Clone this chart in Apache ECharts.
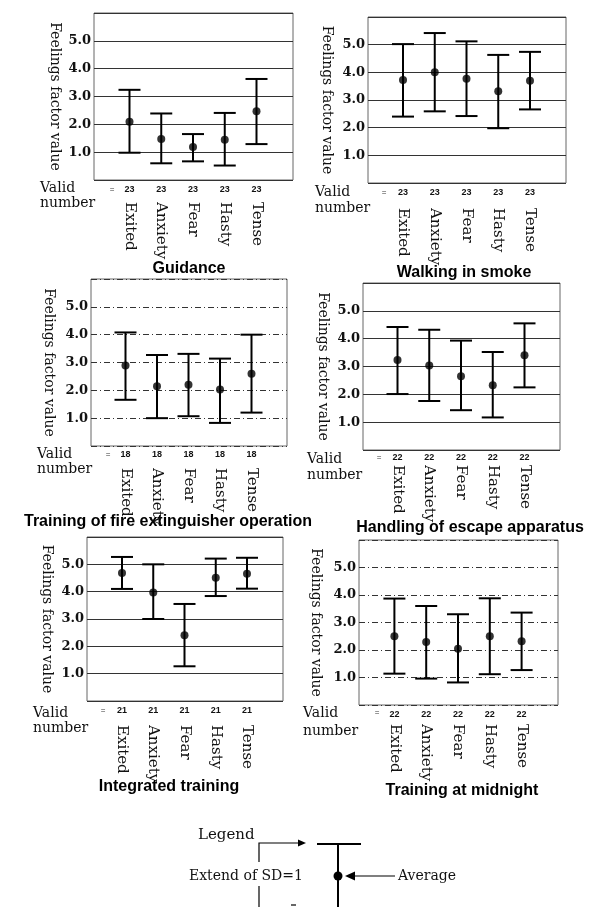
<!DOCTYPE html>
<html><head><meta charset="utf-8">
<script src="https://cdn.jsdelivr.net/npm/echarts@6/dist/echarts.min.js"></script>
<style>html,body{margin:0;padding:0;background:#fff}#c{width:599px;height:907px}</style>
</head><body><div id="c"></div>
<script>
// ---------------- data ----------------
const categories = ['Exited', 'Anxiety', 'Fear', 'Hasty', 'Tense'];
const panelTitles = ['Guidance', 'Walking in smoke', 'Training of fire extinguisher operation',
  'Handling of escape apparatus', 'Integrated training', 'Training at midnight'];
const validNumbers = [23, 23, 18, 22, 21, 22];
const yTickValues = [1, 2, 3, 4, 5];
const yAxisName = 'Feelings factor value';

const guidanceMean = [2.09, 1.47, 1.19, 1.45, 2.47];
const guidanceHigh = [3.24, 2.39, 1.65, 2.41, 3.63];
const guidanceLow  = [0.98, 0.60, 0.67, 0.52, 1.29];

const smokeMean = [3.72, 4.00, 3.77, 3.32, 3.70];
const smokeHigh = [5.02, 5.42, 5.12, 4.63, 4.74];
const smokeLow  = [2.40, 2.59, 2.42, 1.98, 2.66];

const extinguisherMean = [2.89, 2.15, 2.20, 2.03, 2.60];
const extinguisherHigh = [4.08, 3.27, 3.31, 3.14, 4.00];
const extinguisherLow  = [1.66, 1.00, 1.07, 0.83, 1.20];

const escapeMean = [3.23, 3.04, 2.65, 2.33, 3.40];
const escapeHigh = [4.42, 4.32, 3.93, 3.52, 4.55];
const escapeLow  = [2.01, 1.76, 1.43, 1.17, 2.25];

const integratedMean = [4.68, 3.97, 2.41, 4.51, 4.66];
const integratedHigh = [5.27, 5.00, 3.55, 5.21, 5.24];
const integratedLow  = [4.10, 3.00, 1.27, 3.84, 4.11];

const midnightMean = [2.50, 2.29, 2.05, 2.50, 2.32];
const midnightHigh = [3.87, 3.60, 3.30, 3.88, 3.36];
const midnightLow  = [1.14, 0.96, 0.82, 1.12, 1.27];

const panelData = [
  [guidanceMean, guidanceLow, guidanceHigh],
  [smokeMean, smokeLow, smokeHigh],
  [extinguisherMean, extinguisherLow, extinguisherHigh],
  [escapeMean, escapeLow, escapeHigh],
  [integratedMean, integratedLow, integratedHigh],
  [midnightMean, midnightLow, midnightHigh]
];

// ---------------- layout ----------------
const layouts = [
  {l: 94,  t: 13,  w: 199, h: 167, sp: 31.75, dash: 'solid',  nameGap: 32, catGap: 22, cntGap: 10, title: [189, 269], valid: [40, 188, 203],  eq: [112, 190]},
  {l: 368, t: 17,  w: 198, h: 166, sp: 31.75, dash: 'solid',  nameGap: 34, catGap: 25, cntGap: 10, title: [464, 273], valid: [315, 192, 208], eq: [384, 193]},
  {l: 91,  t: 279, w: 196, h: 167, sp: 31.5,  dash: [6, 3, 1, 3], nameGap: 35, catGap: 22, cntGap: 9,  title: [168, 522], valid: [37, 454, 469],  eq: [108, 455]},
  {l: 363, t: 283, w: 197, h: 167, sp: 31.75, dash: 'solid',  nameGap: 33, catGap: 15, cntGap: 8,  title: [470, 528], valid: [307, 459, 475], eq: [379, 458]},
  {l: 87,  t: 537, w: 196, h: 164, sp: 31.25, dash: 'solid',  nameGap: 33, catGap: 24, cntGap: 10, title: [169, 787], valid: [33, 713, 728],  eq: [103, 711]},
  {l: 359, t: 540, w: 199, h: 165, sp: 31.8,  dash: [6, 3, 1, 3], nameGap: 36, catGap: 19, cntGap: 10, title: [462, 791], valid: [303, 713, 731], eq: [377, 713]}
];

const SERIF = 'DejaVu Serif';
const grids = [], xAxes = [], yAxes = [], series = [], graphics = [];

panelData.forEach((pd, i) => {
  const L = layouts[i];
  const [mean, low, high] = pd;
  // outer framed grid with y axis
  const gOuter = grids.length;
  grids.push({left: L.l, top: L.t, width: L.w, height: L.h, show: true, borderColor: '#666', borderWidth: 1});
  xAxes.push({type: 'value', gridIndex: gOuter, min: 0, max: 1, show: false});
  yAxes.push({
    type: 'value', gridIndex: gOuter, min: 0, max: 6, interval: 1,
    axisLine: {show: false}, axisTick: {show: false},
    axisLabel: {formatter: v => yTickValues.includes(v) ? v.toFixed(1) : '',
      fontFamily: SERIF, fontWeight: 'bold', fontSize: 13, color: '#111', margin: 3},
    splitLine: {show: true, lineStyle: {color: '#333', width: 1, type: L.dash}},
    name: yAxisName, nameLocation: 'middle', nameRotate: -90, nameGap: L.nameGap,
    nameTextStyle: {fontFamily: SERIF, fontSize: 14, color: '#111'}
  });
  // inner grid holding the categories
  const gInner = grids.length;
  const innerW = 5 * L.sp;
  grids.push({left: L.l + (L.w - innerW) / 2 - 0.5, top: L.t, width: innerW, height: L.h});
  xAxes.push({
    type: 'category', gridIndex: gInner, data: categories, boundaryGap: true,
    axisLine: {show: false}, axisTick: {show: false}, splitLine: {show: false},
    axisLabel: {interval: 0, rotate: -90, margin: L.catGap, fontFamily: SERIF, fontSize: 15, color: '#111', padding: [6, 0, 0, 0]}
  });
  yAxes.push({type: 'value', gridIndex: gInner, min: 0, max: 6, show: false});
  const xi = xAxes.length - 1, yi = yAxes.length - 1;

  series.push({
    type: 'custom', xAxisIndex: xi, yAxisIndex: yi, silent: true,
    encode: {x: 0, y: [1, 2]},
    data: categories.map((c, k) => [k, low[k], high[k]]),
    renderItem: (params, api) => {
      const x = api.value(0);
      const lo = api.coord([x, api.value(1)]);
      const hi = api.coord([x, api.value(2)]);
      const hw = 11;
      const st = {stroke: '#000', lineWidth: 2};
      return {type: 'group', children: [
        {type: 'line', shape: {x1: lo[0], y1: lo[1], x2: hi[0], y2: hi[1]}, style: st},
        {type: 'line', shape: {x1: lo[0] - hw, y1: lo[1], x2: lo[0] + hw, y2: lo[1]}, style: st},
        {type: 'line', shape: {x1: hi[0] - hw, y1: hi[1], x2: hi[0] + hw, y2: hi[1]}, style: st}
      ]};
    }
  });
  series.push({
    type: 'scatter', xAxisIndex: xi, yAxisIndex: yi, silent: true,
    data: categories.map((c, k) => [k, mean[k]]),
    symbol: 'circle', symbolSize: 8, itemStyle: {color: '#000'}
  });
  series.push({
    type: 'custom', xAxisIndex: xi, yAxisIndex: yi, silent: true,
    encode: {x: 0},
    data: categories.map((c, k) => [k, validNumbers[i]]),
    renderItem: (params, api) => {
      const p = api.coord([api.value(0), 0]);
      return {type: 'text', x: p[0], y: p[1] + L.cntGap,
        style: {text: String(api.value(1)), fontSize: 9, fontWeight: 'bold', fontFamily: 'Liberation Sans',
          fill: '#111', align: 'center', verticalAlign: 'middle'}};
    }
  });

  graphics.push({type: 'text', x: L.title[0], y: L.title[1],
    style: {text: panelTitles[i], font: 'bold 16px "Liberation Sans"', fill: '#000', align: 'center', verticalAlign: 'middle'}});
  graphics.push({type: 'text', x: L.valid[0], y: L.valid[1],
    style: {text: 'Valid', font: '14px "DejaVu Serif"', fill: '#111', align: 'left', verticalAlign: 'middle'}});
  graphics.push({type: 'text', x: L.valid[0], y: L.valid[2],
    style: {text: 'number', font: '14px "DejaVu Serif"', fill: '#111', align: 'left', verticalAlign: 'middle'}});
  graphics.push({type: 'text', x: L.eq[0], y: L.eq[1],
    style: {text: '=', font: '8px "Liberation Sans"', fill: '#333', align: 'center', verticalAlign: 'middle'}});
});

// ---------------- legend key (drawing) ----------------
const blk = {stroke: '#000', lineWidth: 1.2};
graphics.push(
  {type: 'text', x: 198, y: 835, style: {text: 'Legend', font: '15px "DejaVu Serif"', fill: '#111', align: 'left', verticalAlign: 'middle'}},
  {type: 'polyline', shape: {points: [[259, 862], [259, 843], [299, 843]]}, style: Object.assign({fill: null}, blk)},
  {type: 'polygon', shape: {points: [[298, 839.5], [306, 843], [298, 846.5]]}, style: {fill: '#000'}},
  {type: 'line', shape: {x1: 259, y1: 886, x2: 259, y2: 907}, style: blk},
  {type: 'line', shape: {x1: 291, y1: 905, x2: 296, y2: 905}, style: blk},
  {type: 'line', shape: {x1: 317, y1: 844, x2: 361, y2: 844}, style: {stroke: '#000', lineWidth: 2}},
  {type: 'line', shape: {x1: 338, y1: 844, x2: 338, y2: 907}, style: {stroke: '#000', lineWidth: 2}},
  {type: 'circle', shape: {cx: 338, cy: 876, r: 4.5}, style: {fill: '#000'}},
  {type: 'line', shape: {x1: 353, y1: 876, x2: 395, y2: 876}, style: blk},
  {type: 'polygon', shape: {points: [[345, 876], [355, 871.5], [355, 880.5]]}, style: {fill: '#000'}},
  {type: 'text', x: 189, y: 876, style: {text: 'Extend of SD=1', font: '14px "DejaVu Serif"', fill: '#111', align: 'left', verticalAlign: 'middle'}},
  {type: 'text', x: 398, y: 876, style: {text: 'Average', font: '14px "DejaVu Serif"', fill: '#111', align: 'left', verticalAlign: 'middle'}}
);

const chart = echarts.init(document.getElementById('c'), null, {renderer: 'canvas'});
chart.setOption({
  backgroundColor: '#fff',
  animation: false,
  grid: grids,
  xAxis: xAxes,
  yAxis: yAxes,
  series: series,
  graphic: graphics
});
</script>
</body></html>
